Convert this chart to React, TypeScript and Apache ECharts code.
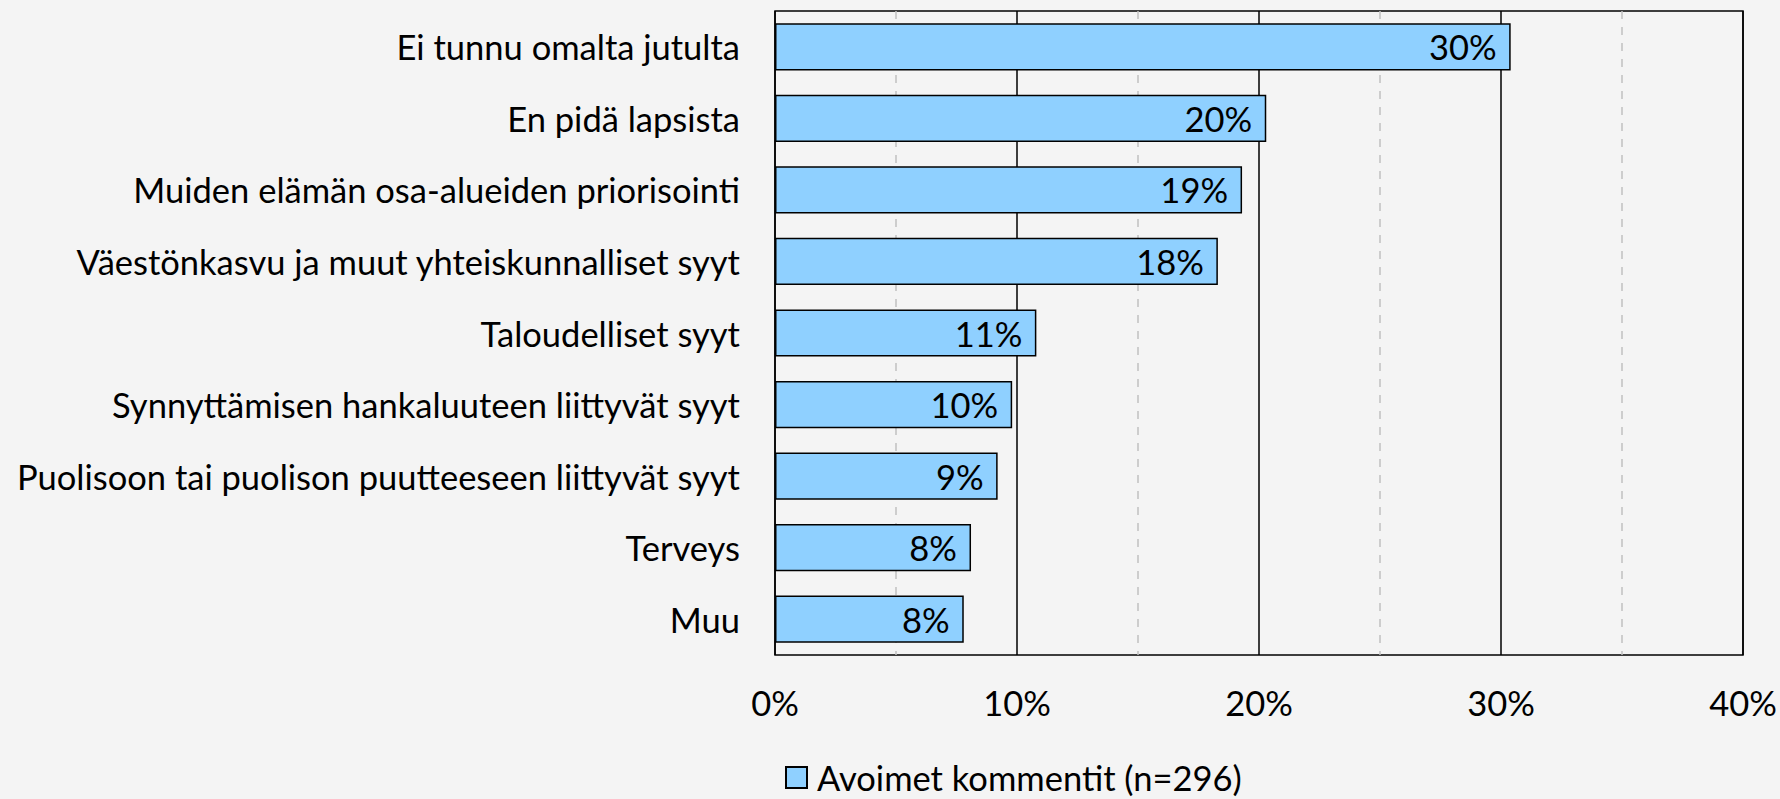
import React, { useEffect, useRef } from "react";
import * as echarts from "echarts";

const categories = [
  "Ei tunnu omalta jutulta",
  "En pidä lapsista",
  "Muiden elämän osa-alueiden priorisointi",
  "Väestönkasvu ja muut yhteiskunnalliset syyt",
  "Taloudelliset syyt",
  "Synnyttämisen hankaluuteen liittyvät syyt",
  "Puolisoon tai puolison puutteeseen liittyvät syyt",
  "Terveys",
  "Muu",
];
const values = [30.4, 20.3, 19.3, 18.3, 10.8, 9.8, 9.2, 8.1, 7.8];
const seriesName = "Avoimet kommentit (n=296)";

const FONT = "Lato";
const FS = 34.5;

export default function App() {
  const ref = useRef<HTMLDivElement>(null);
  useEffect(() => {
    document.body.style.margin = "0";
    const chart = echarts.init(ref.current!, null, { renderer: "svg" });
    chart.setOption({
      animation: false,
      backgroundColor: "#f4f4f4",
      textStyle: { fontFamily: FONT },
      grid: {
        left: 775,
        right: 37,
        top: 11,
        bottom: 144,
        show: true,
        borderColor: "#000",
        borderWidth: 1.5,
        backgroundColor: "transparent",
      },
      legend: {
        bottom: 4,
        left: 785,
        padding: 0,
        icon: "rect",
        itemWidth: 21,
        itemHeight: 21,
        itemGap: 10,
        textStyle: { fontSize: FS, color: "#000", fontFamily: FONT, padding: [0, 0, 0, 5] },
        data: [seriesName],
      },
      xAxis: {
        type: "value",
        min: 0,
        max: 40,
        interval: 10,
        axisLine: { show: false },
        axisTick: { show: false },
        axisLabel: {
          formatter: (v: number) => v + "%",
          fontSize: FS,
          color: "#000",
          margin: 30,
          fontFamily: FONT,
        },
        splitLine: { show: true, lineStyle: { color: "#000", width: 1.5 } },
        minorTick: { show: false, splitNumber: 2 },
        minorSplitLine: {
          show: true,
          lineStyle: { color: "#c0c0c0", width: 1.5, type: [8, 8] },
        },
      },
      yAxis: {
        type: "category",
        data: categories,
        inverse: true,
        axisLine: { show: false },
        axisTick: { show: false },
        axisLabel: { fontSize: FS, color: "#000", margin: 35, fontFamily: FONT },
        splitLine: { show: false },
      },
      series: [
        {
          name: seriesName,
          type: "bar",
          data: values,
          barCategoryGap: "34%",
          itemStyle: { color: "#8fd0ff", borderColor: "#000", borderWidth: 1.5 },
          label: {
            show: true,
            position: "insideRight",
            distance: 14,
            formatter: (p: any) => Math.round(p.value) + "%",
            fontSize: FS,
            color: "#000",
            fontFamily: FONT,
          },
        },
      ],
    });
    return () => chart.dispose();
  }, []);
  return <div ref={ref} style={{ width: 1780, height: 799 }} />;
}
